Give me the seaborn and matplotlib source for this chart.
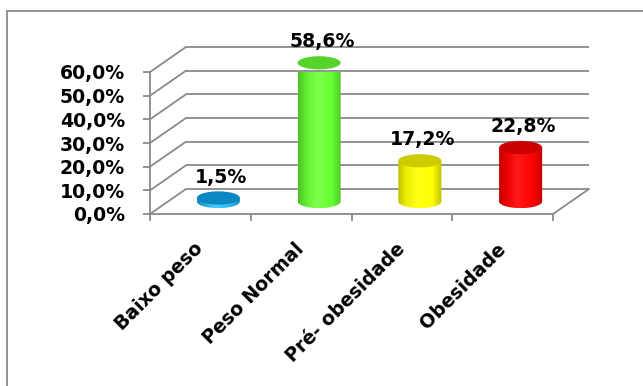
import numpy as np
import pandas as pd
import matplotlib
matplotlib.use("Agg")
import matplotlib.pyplot as plt
import matplotlib.transforms as mtransforms
from matplotlib.patches import Ellipse, Rectangle, PathPatch
from matplotlib.path import Path
from matplotlib.colors import LinearSegmentedColormap, to_rgb
import seaborn as sns

# --- data -------------------------------------------------------------
categories = ["Baixo peso", "Peso Normal", "Pré- obesidade", "Obesidade"]
percentages = [1.5, 58.6, 17.2, 22.8]
value_labels = ["1,5%", "58,6%", "17,2%", "22,8%"]
y_ticks = [0, 10, 20, 30, 40, 50, 60]
y_tick_labels = ["0,0%", "10,0%", "20,0%", "30,0%", "40,0%", "50,0%", "60,0%"]
body_colors = ["#2ab4ea", "#66ff33", "#ffff00", "#ff0000"]
cap_colors = ["#0a88c2", "#55d42c", "#cccc00", "#cc0000"]

# --- style ------------------------------------------------------------
sns.set_theme(style="white")
plt.rcParams["font.family"] = ["DejaVu Sans"]
plt.rcParams["font.weight"] = "bold"
GRID = "#8a8a8a"
FS = 13.6

fig = plt.figure(figsize=(6.43, 3.86), dpi=100)
ax = fig.add_axes([150 / 643, 172 / 386, 403 / 643, 142 / 386])

df = pd.DataFrame({"category": categories, "pct": percentages})
sns.barplot(data=df, x="category", y="pct", order=categories, hue="category",
            palette=body_colors, legend=False, width=0.427, ax=ax,
            saturation=1, zorder=3)

ax.set_xlim(-0.5, 3.5)
ax.set_ylim(0, 60)

# oblique depth of the chart box (data units)
DX, DY = 0.357, 10.56
mid = mtransforms.Affine2D().translate(DX / 2, DY / 2) + ax.transData

# back wall and side wall gridlines
for y in y_ticks:
    ax.plot([-0.5 + DX, 3.5 + DX], [y + DY, y + DY], color=GRID, lw=1.3,
            clip_on=False, zorder=0.5, solid_capstyle="butt")
    ax.plot([-0.5, -0.5 + DX], [y, y + DY], color=GRID, lw=1.3,
            clip_on=False, zorder=0.5)
ax.plot([3.5, 3.5 + DX], [0, DY], color=GRID, lw=1.3, clip_on=False, zorder=0.5)


def cylinder_cmap(color):
    r, g, b = to_rgb(color)
    dark = (r * 0.75, g * 0.75, b * 0.75)
    mid_c = (r * 0.93, g * 0.93, b * 0.93)
    light = tuple(min(1, c + 0.1) for c in (r, g, b))
    return LinearSegmentedColormap.from_list(
        "cyl", [(0, dark), (0.18, mid_c), (0.42, light), (0.78, (r, g, b)), (1, dark)])


RY = 2.8  # half height of the elliptical ends (% units)
grad = np.linspace(0, 1, 256)[None, :]
bars = [p for p in ax.patches if isinstance(p, Rectangle)]
for bar, body, cap, lbl in zip(bars, body_colors, cap_colors, value_labels):
    x0, w, h = bar.get_x(), bar.get_width(), bar.get_height()
    cx = x0 + w / 2
    bar.set_facecolor("none")
    bar.set_edgecolor("none")

    t = np.linspace(np.pi, 2 * np.pi, 60)
    verts = [(x0, h), (x0, 0)] + list(zip(cx + w / 2 * np.cos(t), RY * np.sin(t))) \
        + [(x0 + w, h), (x0, h)]
    codes = [Path.MOVETO] + [Path.LINETO] * (len(verts) - 2) + [Path.CLOSEPOLY]
    outline = PathPatch(Path(verts, codes), transform=mid, facecolor="none",
                        edgecolor="none")
    im = ax.imshow(grad, cmap=cylinder_cmap(body), extent=[x0, x0 + w, -RY, h],
                   aspect="auto", transform=mid, zorder=3, interpolation="bilinear")
    im.set_clip_path(outline)

    ax.add_patch(Ellipse((cx, h), w, 2 * RY, transform=mid, facecolor=cap,
                         edgecolor="none", zorder=4, clip_on=False))
    ax.annotate(lbl, xy=(cx, h), xycoords=mid, xytext=(2, 15),
                textcoords="offset points", ha="center", va="center",
                fontsize=FS, fontweight="bold", color="black", zorder=5,
                annotation_clip=False)

ax.set_xlim(-0.5, 3.5)
ax.set_ylim(0, 60)

# axes, ticks and labels
for side in ["top", "right"]:
    ax.spines[side].set_visible(False)
for side in ["left", "bottom"]:
    ax.spines[side].set_color(GRID)
    ax.spines[side].set_linewidth(1.3)
    ax.spines[side].set_zorder(0.6)

ax.set_yticks(y_ticks)
ax.set_yticklabels(y_tick_labels, fontsize=FS, fontweight="bold")
ax.tick_params(axis="y", length=5, width=1.3, color=GRID, pad=13, left=True,
               direction="out", labelcolor="black")

ax.set_xticks(range(len(categories)))
ax.set_xticklabels(categories, rotation=45, ha="right", va="center",
                   rotation_mode="anchor", fontsize=FS, fontweight="bold")
ax.set_xticks(np.arange(-0.5, len(categories), 1), minor=True)
ax.tick_params(axis="x", which="major", length=0, pad=23, labelcolor="black")
ax.tick_params(axis="x", which="minor", length=5, width=1.3, color=GRID,
               bottom=True, direction="out")
ax.set_xlabel("")
ax.set_ylabel("")
ax.set_facecolor("none")

# chart border
fig.add_artist(Rectangle((7 / 643, -0.2), 1.2, 1.2 - 11 / 386,
                         transform=fig.transFigure, fill=False,
                         edgecolor=GRID, lw=1.3))

fig.savefig("out.png", dpi=100)
